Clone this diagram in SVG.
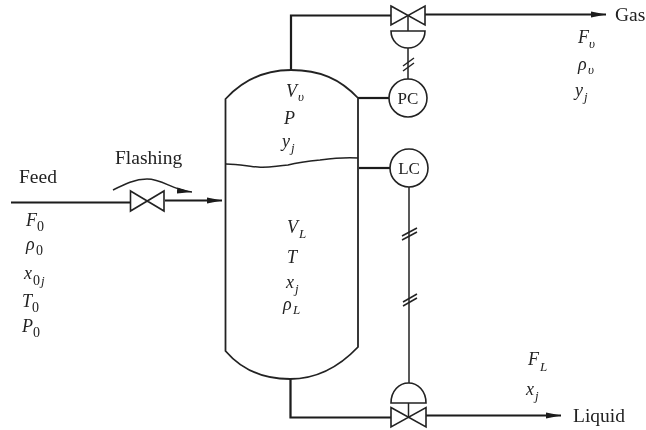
<svg xmlns="http://www.w3.org/2000/svg" width="646" height="430" viewBox="0 0 646 430">
<style>
.l{fill:none;stroke:#222;stroke-width:1.5}
.h{fill:none;stroke:#1a1a1a;stroke-width:2.2}
.s{fill:#fff;stroke:#222;stroke-width:1.6}
text{font-family:"Liberation Serif","Times New Roman",serif;fill:#222;font-size:19.500px}
.i{font-style:italic;font-size:18px}
.u{font-style:italic;font-size:13px}
.n{font-size:14px}
.c{font-size:17px;text-anchor:middle}
</style>
<defs>
<marker id="a" markerWidth="16" markerHeight="8" refX="15" refY="4" orient="auto" markerUnits="userSpaceOnUse"><path d="M0 1L15 4L0 7z" fill="#1a1a1a"/></marker>
<filter id="b" x="-5%" y="-5%" width="110%" height="110%"><feGaussianBlur stdDeviation="0.45"/></filter>
</defs>
<rect width="646" height="430" fill="#fff"/>
<g filter="url(#b)">
<g id="connectors">
<path class="h" d="M11 202.500H130"/>
<path class="h" d="M165 200.500H222" marker-end="url(#a)"/>
<path class="l" d="M113 190C125 184 135 179 147 179C163 179 172 190 192 192" marker-end="url(#a)"/>
<path class="h" d="M291 70V15.500H391"/>
<path class="h" d="M425 14.500H606" marker-end="url(#a)"/>
<path class="l" d="M408 15V31M408 48V79"/>
<path class="l" d="M403 66L414 58M403 71L414 63"/>
<path class="h" d="M358 98H389"/>
<path class="h" d="M359 168H390"/>
<path class="l" d="M409 187V383"/>
<path class="l" d="M402 236L417 228M402 240L417 232"/>
<path class="l" d="M403 302L417 294M403 306L417 298"/>
<path class="h" d="M290.500 379V417.500H391"/>
<path class="h" d="M426 415.500H561" marker-end="url(#a)"/>
<path class="l" d="M408.500 403V417"/>
</g>
<g id="vessel">
<path class="l" d="M225.500 99C243 80 266 70 291 70C320 70 340 79 358 98V347C340 366 318 379 290 379C262 379 240 368 225.500 351Z" style="stroke-width:1.8"/>
<path class="l" d="M226 164C240 164 250 167 258 167C268 168 275 166 288 165C300 162 310 161 320 160C335 158 345 157 358 158"/>
<text class="i" x="286" y="97">V</text><text class="u" x="298" y="101">υ</text>
<text class="i" x="284" y="124">P</text>
<text class="i" x="282" y="147">y</text><text class="u" x="291" y="152">j</text>
<text class="i" x="287" y="233">V</text><text class="u" x="299" y="238">L</text>
<text class="i" x="287" y="263">T</text>
<text class="i" x="286" y="288">x</text><text class="u" x="295" y="293">j</text>
<text class="i" x="283" y="310">ρ</text><text class="u" x="293" y="314">L</text>
</g>
<g id="feed-valve">
<path class="s" d="M130.500 191L164 211V191L130.500 211Z"/>
</g>
<g id="gas-valve">
<path class="s" d="M391 6L425 25V6L391 25Z"/>
<path class="s" d="M391 31H425C425 41 417 48 408 48C399 48 391 41 391 31Z"/>
</g>
<g id="liquid-valve">
<path class="s" d="M391 407.500L426 427V407.500L391 427Z"/>
<path class="s" d="M391 403H426C426 391 418 383 408.500 383C399 383 391 391 391 403Z"/>
</g>
<g id="pc">
<circle class="s" cx="408" cy="98" r="19"/>
<text class="c" x="408" y="104">PC</text>
</g>
<g id="lc">
<circle class="s" cx="409" cy="168" r="19"/>
<text class="c" x="409" y="174">LC</text>
</g>
<g id="labels">
<text x="19" y="183">Feed</text>
<text x="115" y="164">Flashing</text>
<text class="i" x="26" y="226">F</text><text class="n" x="37" y="231">0</text>
<text class="i" x="26" y="250">ρ</text><text class="n" x="36" y="255">0</text>
<text class="i" x="24" y="279">x</text><text class="n" x="33" y="285">0</text><text class="u" x="41" y="285">j</text>
<text class="i" x="22" y="307">T</text><text class="n" x="32" y="312">0</text>
<text class="i" x="22" y="332">P</text><text class="n" x="33" y="337">0</text>
<text x="615" y="21">Gas</text>
<text class="i" x="578" y="43">F</text><text class="u" x="589" y="48">υ</text>
<text class="i" x="578" y="70">ρ</text><text class="u" x="588" y="74">υ</text>
<text class="i" x="575" y="96">y</text><text class="u" x="584" y="101">j</text>
<text class="i" x="528" y="365">F</text><text class="u" x="540" y="371">L</text>
<text class="i" x="526" y="395">x</text><text class="u" x="535" y="400">j</text>
<text x="573" y="422">Liquid</text>
</g>
</g>
</svg>
